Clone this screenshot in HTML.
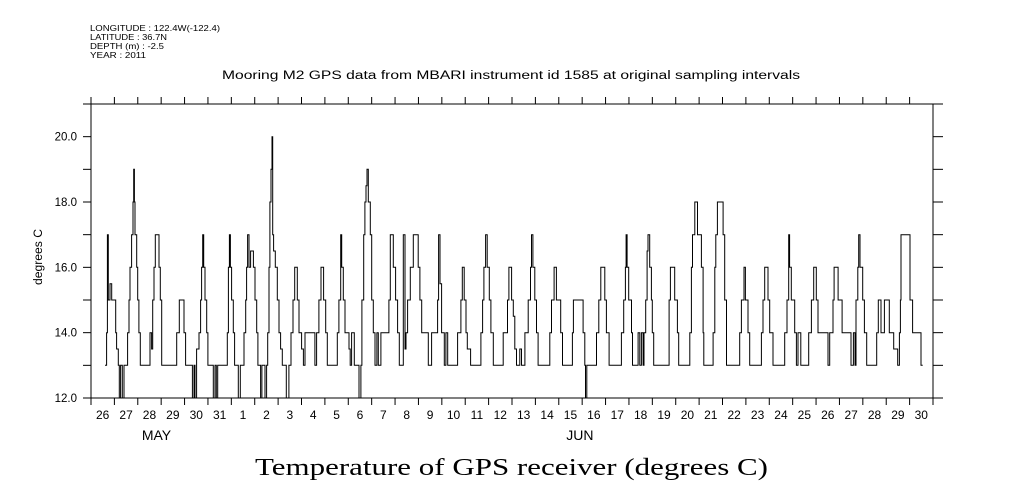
<!DOCTYPE html>
<html><head><meta charset="utf-8"><style>
body{margin:0;background:#fff}
svg{display:block;font-family:"Liberation Sans",sans-serif}
</style></head><body>
<svg id="chart" width="1009" height="504" viewBox="0 0 1009 504" xmlns="http://www.w3.org/2000/svg">
<g font-size="8.5" fill="#000">
<text x="90" y="31" textLength="130" lengthAdjust="spacingAndGlyphs">LONGITUDE : 122.4W(-122.4)</text>
<text x="90" y="40" textLength="77" lengthAdjust="spacingAndGlyphs">LATITUDE : 36.7N</text>
<text x="90" y="49" textLength="74" lengthAdjust="spacingAndGlyphs">DEPTH (m) : -2.5</text>
<text x="90" y="58" textLength="56" lengthAdjust="spacingAndGlyphs">YEAR : 2011</text>
</g>
<text x="222" y="79" font-size="11.5" textLength="578" lengthAdjust="spacingAndGlyphs">Mooring M2 GPS data from MBARI instrument id 1585 at original sampling intervals</text>
<text transform="translate(42,257) rotate(-90)" font-size="11.5" text-anchor="middle" textLength="56" lengthAdjust="spacingAndGlyphs">degrees C</text>
<text x="255" y="475" font-size="24" font-family="Liberation Serif,serif" textLength="513" lengthAdjust="spacingAndGlyphs">Temperature of GPS receiver (degrees C)</text>
<rect x="91" y="104" width="842" height="294" fill="none" stroke="#000" stroke-width="1"/>
<g id="axes"></g>
<path id="series" fill="none" stroke="#000" stroke-width="1"/>
</svg>
<script>
const dayLabels=["26","27","28","29","30","31","1","2","3","4","5","6","7","8","9","10","11","12","13","14","15","16","17","18","19","20","21","22","23","24","25","26","27","28","29","30"];
const yTicks=[12,13,14,15,16,17,18,19,20,21];
const yLabels=["12.0","","14.0","","16.0","","18.0","","20.0",""];
const months=[{name:"MAY",day:2.8},{name:"JUN",day:20.9}];
const hours=[14.4,16,16.8,17.8,19.5,21.2,25.3,26.3,28,29,30.4,32.1,33.9,37.6,39,40,41.7,43.1,43.8,44.5,45.1,46.9,47.9,49.2,50.6,60.5,62.2,63.3,64.6,66,69.8,71.1,72.5,87.9,90.6,95.4,97.1,104,105.7,106.7,108.4,110.8,112.5,113.5,114.6,115.6,117,118.7,120,125.5,127.2,128.6,130,139.9,141,142,143,144.3,146,147.4,151.2,153.2,157,158.7,159.7,160.7,162.1,163.8,166.6,168.3,170,171.3,174,175.4,178.5,180.2,181.3,182.6,183.6,184.7,185.7,186.4,187.4,189.1,191.2,192.9,194.6,196.3,200.4,203.1,205.2,207.3,209,211.7,213.4,216.1,217.9,219.6,229.8,231.5,233.9,236,238.7,240.8,242.5,252.7,254.4,256.2,257.2,258.9,260.6,264.7,266,267.4,270.2,275,277,278,279.8,281.1,282.2,283.2,284.5,286.6,288,289.7,291.4,293.4,294.8,297.5,305.7,307.1,310.2,312.6,314.6,316.4,320.5,322.2,323.2,324.9,327.6,330.7,335.8,337.5,339.3,346.1,349.5,355.7,356.7,358.1,359.8,362.5,364.2,366,376.2,379.6,381,383,384.8,386.1,389.5,400.1,401.8,403.2,404.9,406.6,408.7,410.4,412.8,423,427.4,428.8,431.6,433.3,434.9,436.6,440,441.7,445.2,448.6,451,452,453.4,455.4,457.1,458.8,470.8,472.5,475.2,477.6,482,483.8,494,495,505,506.7,507.4,508.8,518.7,521.1,523.1,527.2,528.9,531.6,544.3,546.6,548.4,549.1,550.1,551.8,554.6,555.6,561.4,563.1,564.8,566.5,567.5,569.2,570.6,571.6,573.3,575,576,577.4,593.2,594.5,599,601.7,603.1,614.4,616.1,617.2,619.6,622.3,626.4,628.1,628.8,638.4,640.1,641.1,642.8,648.6,650.3,652.1,665.7,667.4,670.1,671.5,674.2,675.9,687.9,689.6,691.3,694.7,696.4,699.8,711.8,714.2,715.9,716.9,718.6,722.1,723.8,725.5,728.3,736.5,739.2,741.6,744.3,746,756.3,758,761.4,762.5,766.6,770.7,779.9,782.3,784,785,786.8,787.8,789.1,791.9,793.6,796,806.2,807.9,810.6,814.1,819.2,823.7,827.8,829.5,830.5,831.2,840.4,843.1,851.7,853.4];
const temps=[13,14,17,15,15.5,15,14,13.5,13,12,13,12,13,14,15,16,17,18,19,18,17,16,15,14,13,14,13.5,15,16,17,16,15,13,14,15,14,13,12,13,12,13.5,14,15,16,17,16,15,14,13,12,13,12,13,14,16,17,16,15,14,13,12,13,14,15,16,17,16,16.5,16,15,14,13,12,13,12,13,14,16,18,19,20,17,16.5,16,15,14,13.5,13,12,13,14,15,16,15,14,13.5,13,14,13,14,15,16,15,14,13,14,15,17,16,15,14,13.5,13,14,13,12,13,15,17,18,18.5,19,18,17,15,14,13,14,13,14,15,17,16,15,14,13,17,13.5,14,15,16,17,16,15,14,13,14,15,17,15.5,14,13,14,13,14,15,16,15,14,13.5,13,14,15,16,17,16,15,14,13,14,15,16,15,14.5,13.5,13,13.5,13,14,15,16,17,16,15,14,13,14,15,16,15,14,13,14,15,14,13,12,13,14,15,16,15,14,13,14,15,16,17,16,15,14,13,14,13,14,13,14,15,16.5,17,16,15,14,13,15,16,15,14,13,14,16,17,18,17,16,14,13,14,16,17,18,17,15,13,14,15,16,15,14,13,14,15,16,15,14,13,14,15,17,16,15,14,13,14,13,14,15,16,15,14,13,14,15,16,15,14,13,14,13,15,16,17,16,15,14,13,14,15,14,15,14,13.5,13,14,15,17,15,14,13,13];
const X0=91,X1=933,Y0=398,Y1=104,TOTAL_H=864;
const xs=h=>X0+h/TOTAL_H*(X1-X0);
const ys=v=>Y0-(v-12)/(21-12)*(Y0-Y1);
const NS="http://www.w3.org/2000/svg";
const axes=document.getElementById('axes');
function mk(tag,attrs){const e=document.createElementNS(NS,tag);for(const k in attrs)e.setAttribute(k,attrs[k]);axes.appendChild(e);return e;}
const dw=(X1-X0)/dayLabels.length;
dayLabels.forEach((d,i)=>{
  const xb=X0+i*dw;
  const tb=mk('line',{x1:xb,x2:xb,y1:Y0,y2:Y0+7,stroke:'#000'});
  
  
  const tt=mk('line',{x1:xb,x2:xb,y1:Y1,y2:Y1-7,stroke:'#000'});
  
  
  const t=mk('text',{x:xb+dw/2,y:Y0+21,'font-size':12,'text-anchor':'middle'});
  t.textContent=d;
  
  
});
const endT=mk('line',{x1:X1,x2:X1,y1:Y0,y2:Y0+7,stroke:'#000'});


const ext=mk('line',{x1:X1,x2:X1+10,y1:Y0,y2:Y0,stroke:'#000'});


months.forEach(m=>{
  const t=mk('text',{x:X0+m.day*dw,y:Y0+42,'font-size':14,'text-anchor':'middle'});
  t.textContent=m.name;
  
  
});
yTicks.forEach((v,i)=>{
  const y=ys(v);
  const l=mk('line',{x1:X0-8,x2:X0,y1:y,y2:y,stroke:'#000'});
  
  
  const r=mk('line',{x1:X1,x2:X1+10,y1:y,y2:y,stroke:'#000'});
  
  
  if(yLabels[i]){
    const t=mk('text',{x:X0-14,y:y+4,'font-size':11.5,'text-anchor':'end'});
    t.textContent=yLabels[i];
    
    
  }
});
let d='';
hours.forEach((h,i)=>{
  const x=xs(h).toFixed(1),y=ys(temps[i]).toFixed(1);
  if(i===0)d+='M'+x+','+y;else d+='H'+x+'V'+y;
});
document.getElementById('series').setAttribute('d',d);
</script>
</body></html>
